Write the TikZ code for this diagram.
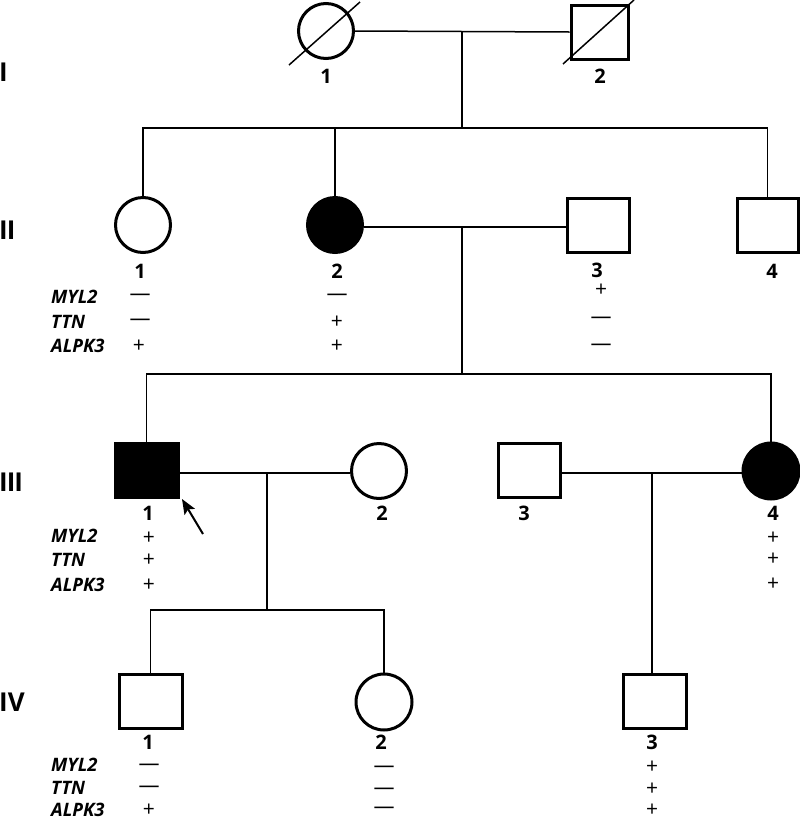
\documentclass[tikz,border=0pt]{standalone}
\usepackage{fontspec}
\setmainfont{Open Sans}
\usetikzlibrary{arrows.meta}
\tikzset{
  sym/.style={draw=black, line width=3pt, inner sep=0pt, fill=white},
  male/.style={sym, rectangle, minimum width=62pt, minimum height=54pt},
  female/.style={sym, circle, minimum size=55pt},
  aff/.style={fill=black},
  conn/.style={line width=1.5pt},
  idlab/.style={font=\fontsize{20}{20}\selectfont\bfseries, inner sep=0pt},
  gen/.style={font=\fontsize{26}{26}\selectfont\bfseries, inner sep=0pt, anchor=west},
  gene/.style={font=\fontsize{18.5}{18.5}\selectfont\bfseries\itshape, inner sep=0pt, anchor=west},
  val/.style={font=\fontsize{21}{21}\selectfont, inner sep=0pt},
  deceased/.style={line width=1.5pt}
}
\begin{document}
\begin{tikzpicture}[x=1pt,y=-1pt]
\useasboundingbox[fill=white] (0,0) rectangle (800,820);

% generation labels
\node[gen] (gI) at (-1,72) {I};
\node[gen] (gII) at (-1,230) {I\kern-1ptI};
\node[gen] (gIII) at (-1,482) {I\kern-1ptI\kern-1ptI};
\node[gen] (gIV) at (-1,702) {IV};

% Generation I
\node[female] (I1) at (326,31) {};
\node[male, minimum width=57pt] (I2) at (599.5,32) {};
\coordinate (d1a) at (289,65); \coordinate (d1b) at (360,2);
\coordinate (d2a) at (563,64); \coordinate (d2b) at (634,0);
\draw[deceased] (d1a) -- (d1b);
\draw[deceased] (d2a) -- (d2b);
\node[idlab] (lI1) at (326,76) {1};
\node[idlab] (lI2) at (600,76) {2};

% Generation II
\node[female] (II1) at (143,225) {};
\node[female, aff] (II2) at (335,225) {};
\node[male] (II3) at (598,225) {};
\node[male, minimum width=61pt] (II4) at (767.5,225) {};
\node[idlab] (lII1) at (140,271) {1};
\node[idlab] (lII2) at (337,271) {2};
\node[idlab] (lII3) at (597,270) {3};
\node[idlab] (lII4) at (772,271) {4};

% Generation III
\node[male, aff, minimum width=63pt] (III1) at (146.5,470) {};
\node[female] (III2) at (379,471) {};
\node[male] (III3) at (529,470) {};
\node[female, aff, minimum size=56pt] (III4) at (771,471) {};
\node[idlab] (lIII1) at (148,513) {1};
\node[idlab] (lIII2) at (382,513) {2};
\node[idlab] (lIII3) at (524,513) {3};
\node[idlab] (lIII4) at (773,513) {4};

% Generation IV
\node[male, minimum width=63pt] (IV1) at (150.5,701) {};
\node[female, minimum size=56pt] (IV2) at (384,702) {};
\node[male, minimum width=63pt] (IV3) at (654.5,701) {};
\node[idlab] (lIV1) at (148,742) {1};
\node[idlab] (lIV2) at (381,742) {2};
\node[idlab] (lIV3) at (652,742) {3};

% connectors I
\coordinate (cI) at (462,31);
\coordinate (sI) at (462,128);
\draw[conn] (I1.east) -- (I2.west);
\draw[conn] (cI) -- (sI);
\draw[conn] (II1.north) |- (sI) -| (II4.north);
\draw[conn] (II2.north) -- (II2.north |- sI);

% connectors II
\coordinate (cII) at (462,227);
\coordinate (sII) at (462,374);
\draw[conn] (II2.east |- cII) -- (II3.west |- cII);
\draw[conn] (cII) -- (sII);
\draw[conn] (III1.north) |- (sII) -| (III4.north);

% connectors III
\coordinate (cIII) at (267,473);
\coordinate (sIII) at (267,610);
\draw[conn] (III1.east |- cIII) -- (III2.west |- cIII);
\draw[conn] (cIII) -- (sIII);
\draw[conn] (IV1.north) |- (sIII) -| (IV2.north);

\coordinate (cIIIb) at (652,473);
\draw[conn] (III3.east |- cIIIb) -- (III4.west |- cIIIb);
\draw[conn] (cIIIb) -- (IV3.north -| cIIIb);

% proband arrow
\coordinate (pa) at (203,534);
\coordinate (pb) at (182,499);
\draw[line width=2pt, -{Stealth[length=15pt, width=12pt, inset=3pt]}] (pa) -- (pb);

% genotypes generation II
\node[gene] (gII1) at (51,297) {MYL2};
\node[gene] (gII2) at (51,322) {TTN};
\node[gene] (gII3) at (51,346) {ALPK3};
\node[val] (v211) at (140,297) {—};
\node[val] (v212) at (140,322) {—};
\node[val] (v213) at (139,346) {+};
\node[val] (v221) at (337,297) {—};
\node[val] (v222) at (337,322) {+};
\node[val] (v223) at (337,346) {+};
\node[val] (v231) at (601,290) {+};
\node[val] (v232) at (601,320) {—};
\node[val] (v233) at (601,347) {—};

% genotypes generation III
\node[gene] (gIII1) at (51,536) {MYL2};
\node[gene] (gIII2) at (51,560) {TTN};
\node[gene] (gIII3) at (51,585) {ALPK3};
\node[val] (v311) at (149,538) {+};
\node[val] (v312) at (149,560) {+};
\node[val] (v313) at (149,585) {+};
\node[val] (v341) at (773,538) {+};
\node[val] (v342) at (773,559) {+};
\node[val] (v343) at (773,584) {+};

% genotypes generation IV
\node[gene] (gIV1) at (51,765) {MYL2};
\node[gene] (gIV2) at (51,788) {TTN};
\node[gene] (gIV3) at (51,810) {ALPK3};
\node[val] (v411) at (149,767) {—};
\node[val] (v412) at (149,789) {—};
\node[val] (v413) at (149,810) {+};
\node[val] (v421) at (384,769) {—};
\node[val] (v422) at (384,791) {—};
\node[val] (v423) at (384,810) {—};
\node[val] (v431) at (652,767) {+};
\node[val] (v432) at (652,789) {+};
\node[val] (v433) at (652,810) {+};
\end{tikzpicture}
\end{document}
